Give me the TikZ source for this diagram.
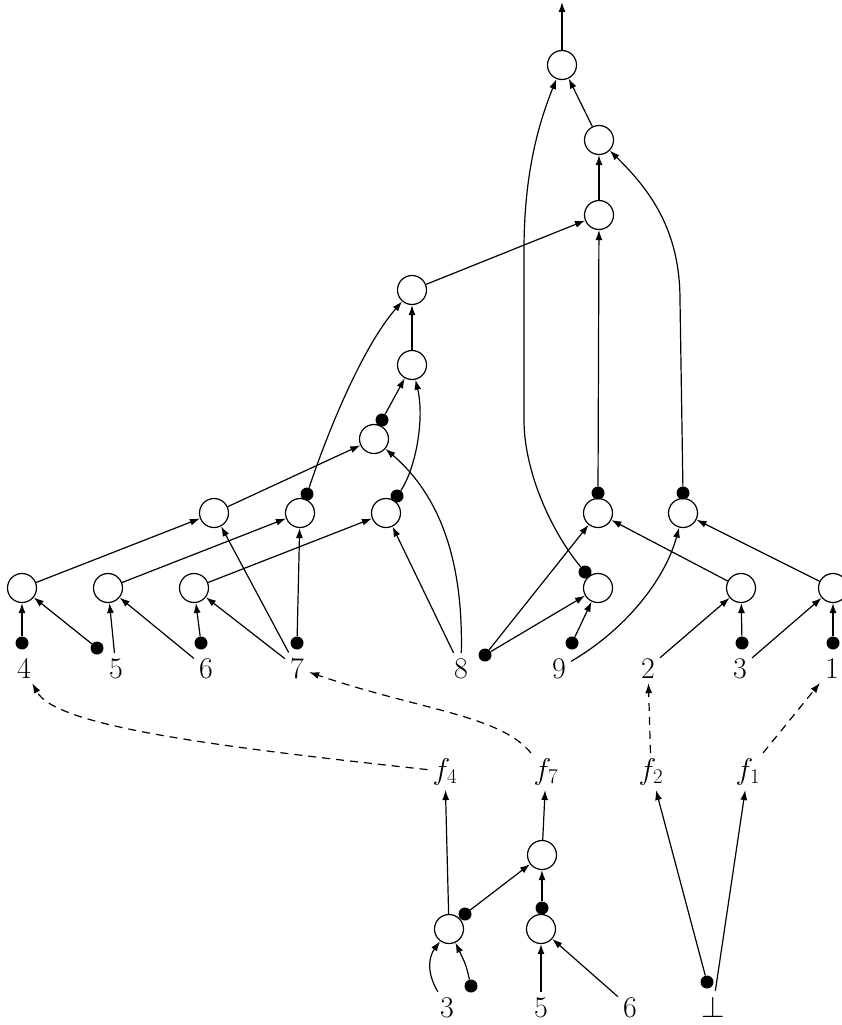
\RequirePackage{fix-cm}
\documentclass[tikz,border=0pt]{standalone}
\usetikzlibrary{arrows.meta}
\begin{document}
\begin{tikzpicture}[x=1pt,y=-1pt,
  st/.style={circle, draw, line width=1.2pt, minimum size=29pt, inner sep=0pt},
  dt/.style={circle, fill, minimum size=13pt, inner sep=0pt},
  lb/.style={inner sep=5pt, anchor=base, font=\fontsize{30}{30}\selectfont},
  ar/.style={-{Latex[length=10pt,width=7pt]}, line width=1.2pt},
  da/.style={ar, dash pattern=on 8pt off 6pt}]
\useasboundingbox (0,0) rectangle (841,1025);
% upper circles
\node[st] (t0) at (562,65) {};
\node[st] (t1) at (599,140) {};
\node[st] (t2) at (599,215) {};
\node[st] (a) at (412,290) {};
\node[st] (b) at (412,365) {};
\node[st] (c) at (374,439) {};
\node[dt] (cd) at (382,420) {};
\node[st] (d1) at (214,513) {};
\node[st] (d2) at (300,513) {};
\node[st] (d3) at (386,513) {};
\node[st] (d4) at (598,513) {};
\node[st] (d5) at (683,513) {};
\node[dt] (d2d) at (307,494) {};
\node[dt] (d3d) at (397,496) {};
\node[dt] (d4d) at (598,493) {};
\node[dt] (d5d) at (683,493) {};
\node[st] (e1) at (22,588) {};
\node[st] (e2) at (108,588) {};
\node[st] (e3) at (194,588) {};
\node[st] (e4) at (598,588) {};
\node[st] (e5) at (741,588) {};
\node[st] (e6) at (833,588) {};
\node[dt] (e4d) at (585,572) {};
% input dots
\node[dt] (e1a) at (22,643) {};
\node[dt] (e1b) at (97,648) {};
\node[dt] (e3a) at (201,643) {};
\node[dt] (d2a) at (297,643) {};
\node[dt] (d8) at (485,655) {};
\node[dt] (e4a) at (572,643) {};
\node[dt] (e5a) at (742,643) {};
\node[dt] (e6a) at (833,643) {};
% labels
\node[lb] (l4) at (24,678) {4};
\node[lb] (l5) at (116,678) {5};
\node[lb] (l6) at (206,678) {6};
\node[lb] (l7) at (297,678) {7};
\node[lb] (l8) at (461,678) {8};
\node[lb] (l9) at (559,678) {9};
\node[lb] (l2) at (648,678) {2};
\node[lb] (l3) at (740,678) {3};
\node[lb] (l1) at (832,678) {1};
% f labels
\node[lb] (f4) at (445,779) {$f_4$};
\node[lb] (f7) at (546,779) {$f_7$};
\node[lb] (f2) at (651,779) {$f_2$};
\node[lb] (f1) at (748,779) {$f_1$};
% bottom part
\node[st] (g1) at (542,855) {};
\node[st] (g2) at (449,929) {};
\node[st] (g3) at (541,929) {};
\node[dt] (g3d) at (542,908) {};
\node[dt] (g2d) at (465,914) {};
\node[dt] (g2b) at (471,986) {};
\node[dt] (bot) at (707,982) {};
\node[lb] (m3) at (447,1017) {3};
\node[lb] (m5) at (541,1017) {5};
\node[lb] (m6) at (630,1017) {6};
\node[lb] (mb) at (713,1017) {$\bot$};
\coordinate (top) at (562,2);
% upper edges
\draw[ar] (t0) -- (top);
\draw[ar] (t1) -- (t0);
\draw[ar] (t2) -- (t1);
\draw[ar] (a) -- (t2);
\draw[ar] (b) -- (a);
\draw[ar] (cd) -- (b);
\draw[ar] (d3d) .. controls (415,470) and (425,420) .. (b);
\draw[ar] (d2d) .. controls (325,440) and (360,350) .. (a);
\draw[ar] (l8) .. controls (463,570) and (445,500) .. (c);
\draw[ar] (e4d) .. controls (550,530) and (524,470) .. (524,420) -- (524,250) .. controls (524,170) and (540,120) .. (t0);
\draw[ar] (d5d) -- (680,300) .. controls (680,230) and (650,190) .. (t1);
\draw[ar] (l9) .. controls (625,630) and (665,580) .. (d5);
\draw[ar] (d1) -- (c);
\draw[ar] (e1) -- (d1);
\draw[ar] (e2) -- (d2);
\draw[ar] (e3) -- (d3);
\draw[ar] (e1a) -- (e1);
\draw[ar] (e1b) -- (e1);
\draw[ar] (l5) -- (e2);
\draw[ar] (l6) -- (e2);
\draw[ar] (e3a) -- (e3);
\draw[ar] (l7) -- (e3);
\draw[ar] (l7) -- (d1);
\draw[ar] (d2a) -- (d2);
\draw[ar] (l8) -- (d3);
\draw[ar] (d8) -- (d4);
\draw[ar] (d8) -- (e4);
\draw[ar] (e4a) -- (e4);
\draw[ar] (d4d) -- (t2);
\draw[ar] (e5) -- (d4);
\draw[ar] (e6) -- (d5);
\draw[ar] (l2) -- (e5);
\draw[ar] (e5a) -- (e5);
\draw[ar] (l3) -- (e6);
\draw[ar] (e6a) -- (e6);
% dashed
\draw[da] (f4) .. controls (200,745) and (55,725) .. (l4);
\draw[da] (f7) .. controls (500,715) and (420,710) .. (l7);
\draw[da] (f2) -- (l2);
\draw[da] (f1) -- (l1);
% bottom edges
\draw[ar] (g2) -- (f4);
\draw[ar] (g2d) -- (g1);
\draw[ar] (g1) -- (f7);
\draw[ar] (g3d) -- (g1);
\draw[ar] (m3) .. controls (425,970) and (430,955) .. (g2);
\draw[ar] (g2b) .. controls (466,965) .. (g2);
\draw[ar] (m5) -- (g3);
\draw[ar] (m6) -- (g3);
\draw[ar] (bot) -- (f2);
\draw[ar] (mb) -- (f1);
\end{tikzpicture}
\end{document}
